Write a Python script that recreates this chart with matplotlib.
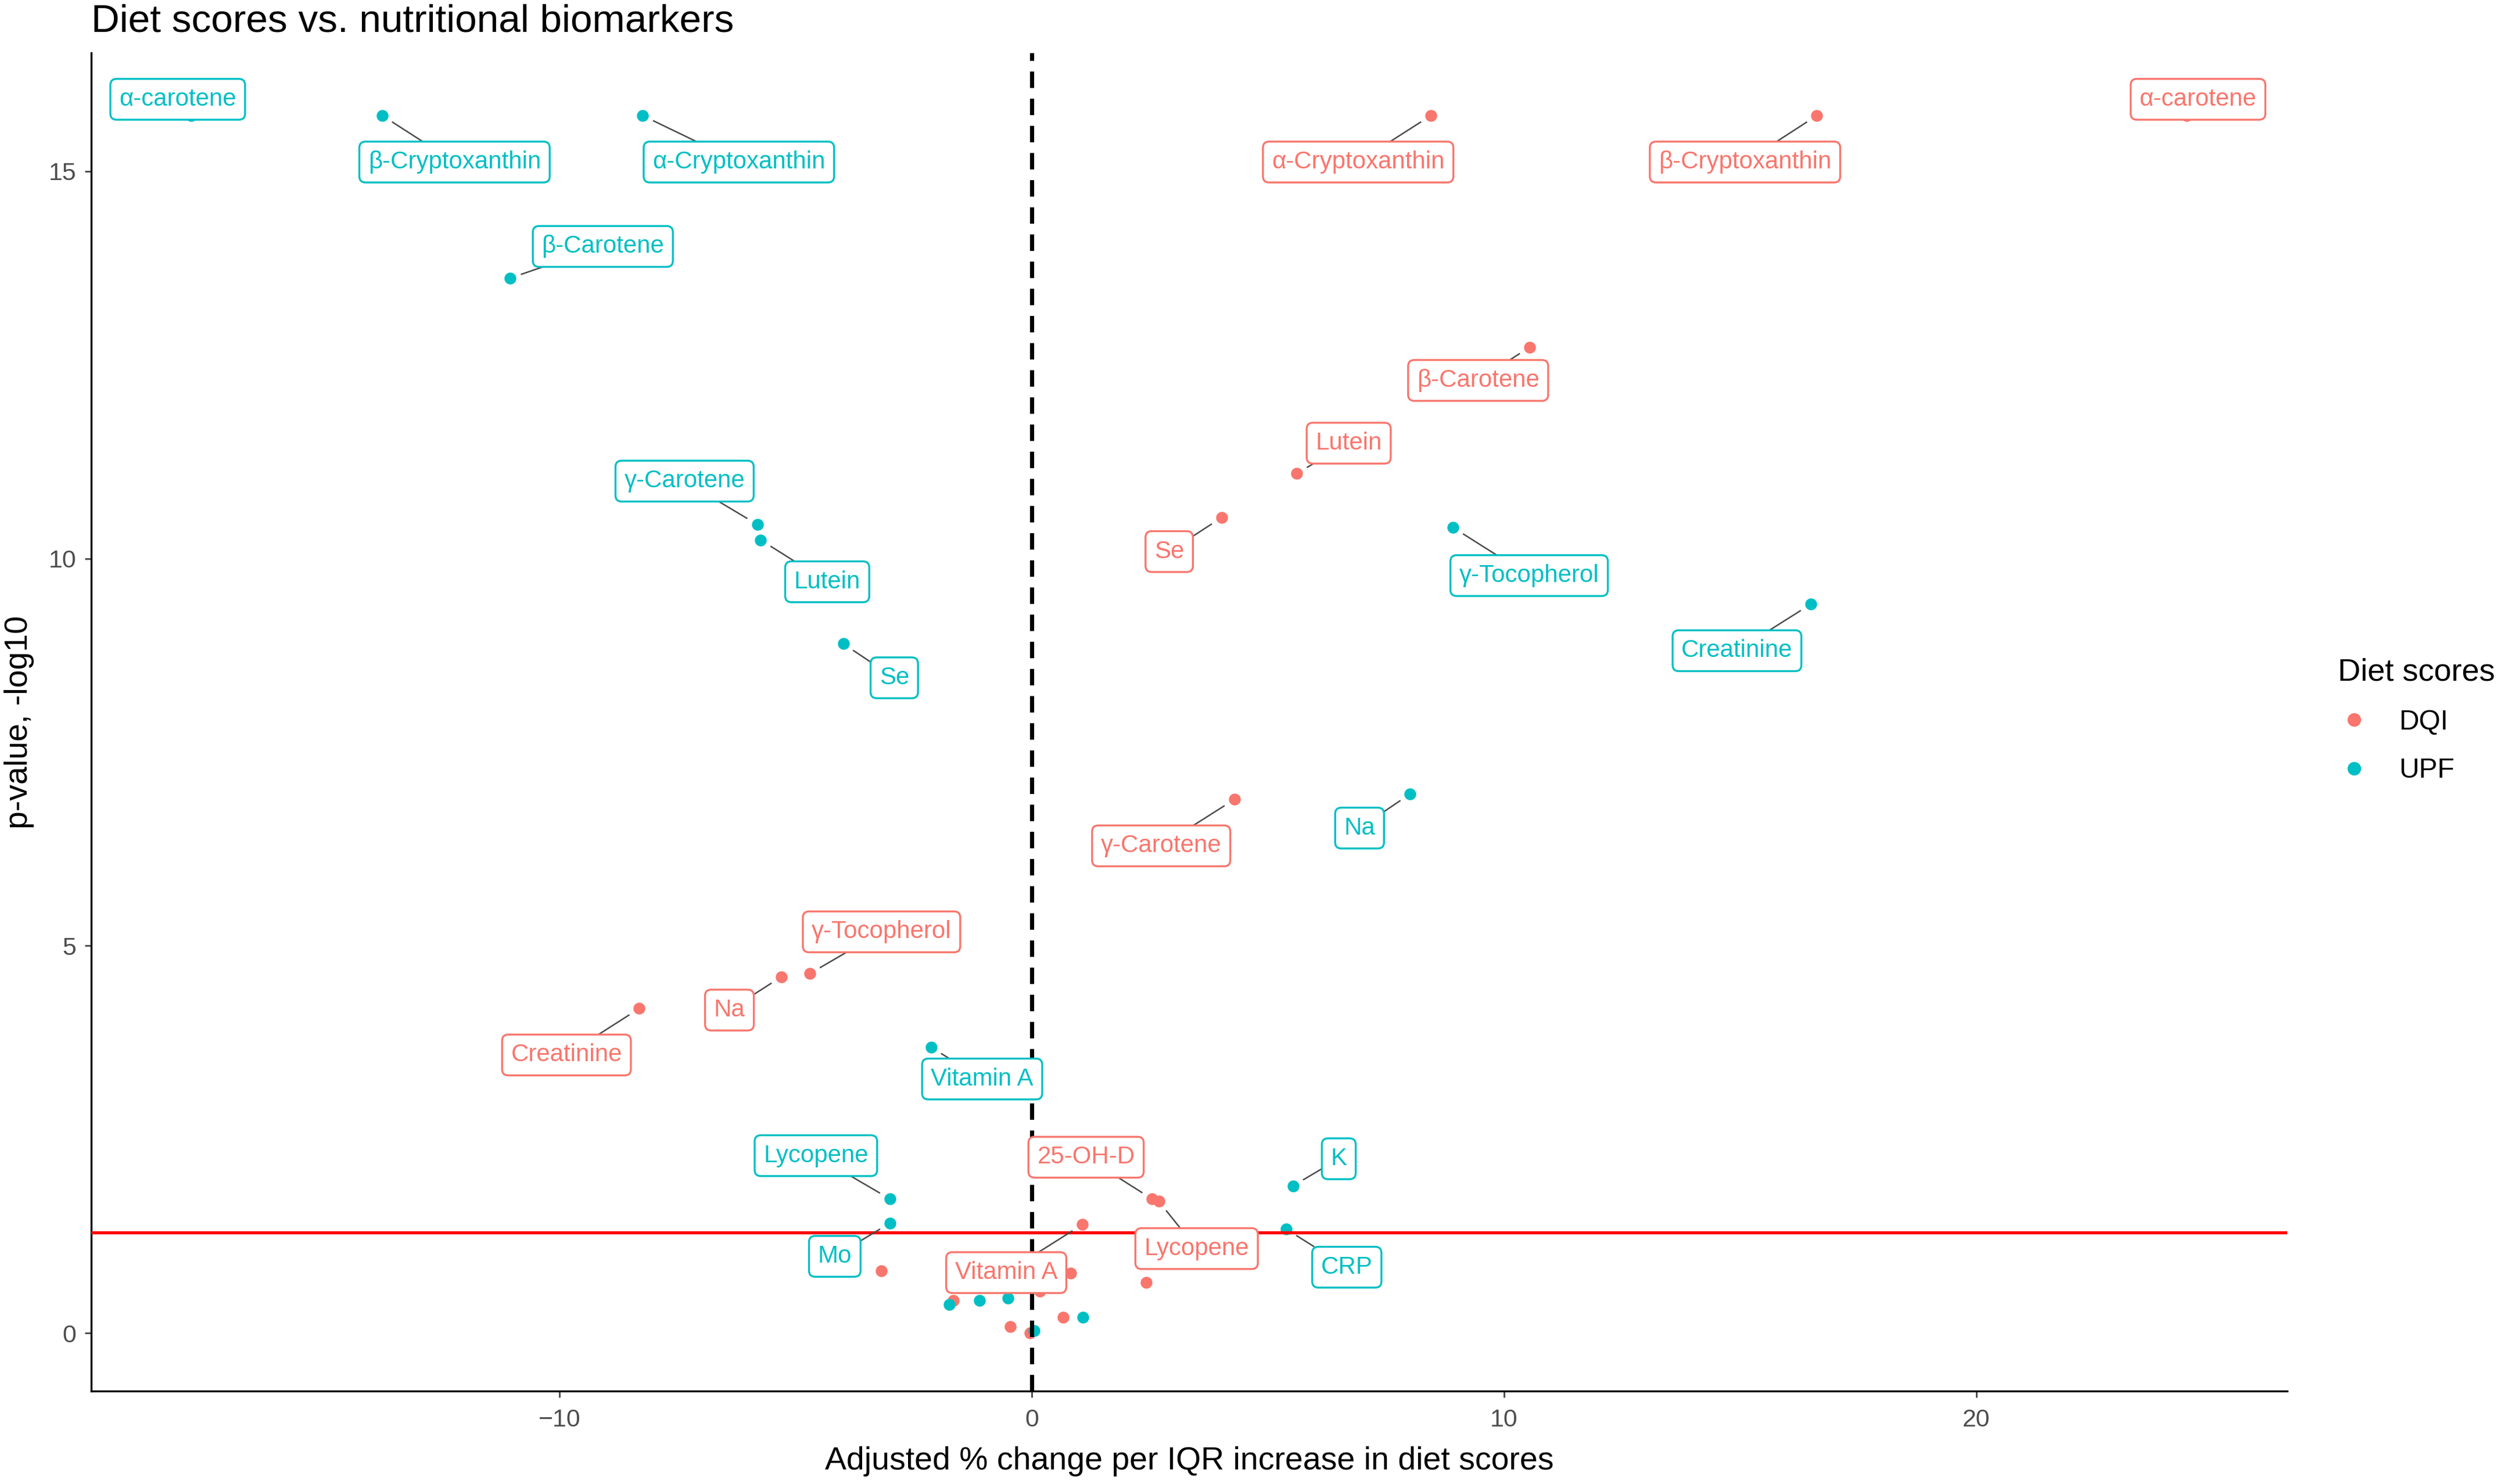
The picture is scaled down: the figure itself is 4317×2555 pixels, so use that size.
import matplotlib
matplotlib.use("Agg")
import matplotlib.pyplot as plt
from matplotlib.lines import Line2D
import numpy as np

plt.rcParams['font.family'] = ['Liberation Sans', 'DejaVu Sans']

# ---------------- data ----------------
upf_names = ['α-carotene', 'β-Cryptoxanthin', 'α-Cryptoxanthin', 'β-Carotene', 'γ-Carotene',
             'Lutein', 'Se', 'Vitamin A', 'Lycopene', 'Mo', 'K', 'CRP', 'γ-Tocopherol',
             'Creatinine', 'Na', '', '', '', '', '']
upf_x = [-17.8, -13.75, -8.24, -11.05, -5.81, -5.74, -3.99, -2.13, -3.0, -3.0, 5.53, 5.39,
         8.92, 16.49, 8.01, -1.75, -1.11, -0.50, 0.05, 1.08]
upf_y = [15.72, 15.72, 15.72, 13.62, 10.44, 10.24, 8.90, 3.69, 1.73, 1.42, 1.90, 1.34,
         10.40, 9.41, 6.96, 0.37, 0.42, 0.45, 0.03, 0.20]

dqi_names = ['α-carotene', 'α-Cryptoxanthin', 'β-Cryptoxanthin', 'β-Carotene', 'Lutein', 'Se',
             'γ-Carotene', 'γ-Tocopherol', 'Na', 'Creatinine', '25-OH-D', 'Lycopene', 'Vitamin A',
             '', '', '', '', '', '', '', '']
dqi_x = [24.45, 8.45, 16.62, 10.54, 5.61, 4.02, 4.29, -4.70, -5.30, -8.31, 2.55, 2.69, 1.07,
         -3.18, 0.83, 0.17, 2.42, -1.66, 0.66, -0.46, -0.04]
dqi_y = [15.72, 15.72, 15.72, 12.73, 11.10, 10.53, 6.89, 4.64, 4.60, 4.19, 1.73, 1.70, 1.40,
         0.80, 0.77, 0.54, 0.65, 0.42, 0.20, 0.08, 0.00]

significance_line = -np.log10(0.05)

# ---------------- label layout (repelled label centres) ----------------
upf_label_pos = {
    'α-carotene': (-18.08, 15.93), 'β-Cryptoxanthin': (-12.22, 15.12),
    'α-Cryptoxanthin': (-6.20, 15.12), 'β-Carotene': (-9.08, 14.03),
    'γ-Carotene': (-7.35, 11.00), 'Lutein': (-4.33, 9.70), 'Se': (-2.91, 8.46),
    'Vitamin A': (-1.05, 3.28), 'Lycopene': (-4.57, 2.29), 'Mo': (-4.17, 0.99),
    'K': (6.50, 2.25), 'CRP': (6.67, 0.85), 'γ-Tocopherol': (10.53, 9.78),
    'Creatinine': (14.93, 8.81), 'Na': (6.94, 6.52),
}
dqi_label_pos = {
    'α-carotene': (24.69, 15.93), 'α-Cryptoxanthin': (6.91, 15.12),
    'β-Cryptoxanthin': (15.10, 15.12), 'β-Carotene': (9.45, 12.30),
    'Lutein': (6.71, 11.49), 'Se': (2.91, 10.09), 'γ-Carotene': (2.74, 6.29),
    'γ-Tocopherol': (-3.18, 5.18), 'Na': (-6.40, 4.17), 'Creatinine': (-9.85, 3.59),
    '25-OH-D': (1.15, 2.27), 'Lycopene': (3.49, 1.09), 'Vitamin A': (-0.54, 0.78),
}

COL_DQI = '#F8766D'
COL_UPF = '#00BFC4'

W, H, DPI = 4317, 2555, 300
fig = plt.figure(figsize=(W / DPI, H / DPI), dpi=DPI)
ax = fig.add_axes([0.0364, 0.0626, 0.912 - 0.0364, 0.9644 - 0.0626])

ax.scatter(dqi_x, dqi_y, s=24, color=COL_DQI, zorder=2, linewidths=0)
ax.scatter(upf_x, upf_y, s=24, color=COL_UPF, zorder=2, linewidths=0)

ax.axhline(significance_line, color='red', lw=1.3, zorder=3)
ax.axvline(0, color='black', lw=1.7, ls=(0, (4, 2.6)), zorder=3)

ax.set_xlim(-19.91, 26.58)
ax.set_ylim(-0.75, 16.53)
ax.set_xticks([-10, 0, 10, 20])
ax.set_yticks([0, 5, 10, 15])
for s in ['top', 'right']:
    ax.spines[s].set_visible(False)
for s in ['left', 'bottom']:
    ax.spines[s].set_linewidth(0.8)
    ax.spines[s].set_color('black')
ax.tick_params(axis='both', colors='#4D4D4D', labelsize=10.3, length=2.7, width=0.7,
               labelcolor='#4D4D4D')
ax.tick_params(axis='x', pad=4.5)
ax.set_xlabel('Adjusted % change per IQR increase in diet scores', fontsize=13.3,
              color='black', labelpad=6)
ax.set_ylabel('p-value, -log10', fontsize=13.3, color='black', labelpad=6)

fig.text(0.0364, 0.9855, 'Diet scores vs. nutritional biomarkers', fontsize=16.2,
         ha='left', va='center', color='black')

# labels
texts = []
for names, xs, ys, pos, col in [(upf_names, upf_x, upf_y, upf_label_pos, COL_UPF),
                                (dqi_names, dqi_x, dqi_y, dqi_label_pos, COL_DQI)]:
    for n, px, py in zip(names, xs, ys):
        if not n:
            continue
        lx, ly = pos[n]
        t = ax.text(lx, ly, n, fontsize=10.1, color=col, ha='center', va='center', zorder=5,
                    bbox=dict(boxstyle='round,pad=0.36,rounding_size=0.25', fc='white',
                              ec=col, lw=0.8))
        texts.append((t, px, py))

# legend
handles = [Line2D([], [], marker='o', ls='', color=COL_DQI, markersize=4.6, label='DQI'),
           Line2D([], [], marker='o', ls='', color=COL_UPF, markersize=4.6, label='UPF')]
leg = fig.legend(handles=handles, title='Diet scores', loc='upper left',
                 bbox_to_anchor=(0.9265, 0.566), frameon=False, fontsize=11.5,
                 title_fontsize=13.0, handletextpad=1.0, labelspacing=0.8,
                 borderpad=0, handlelength=1.2)
leg._legend_box.align = 'left'

# segments from label box edge to point
fig.canvas.draw()
renderer = fig.canvas.get_renderer()
inv = ax.transData.inverted()
for t, px, py in texts:
    bb = t.get_bbox_patch().get_window_extent(renderer)
    cx, cy = (bb.x0 + bb.x1) / 2, (bb.y0 + bb.y1) / 2
    P = ax.transData.transform((px, py))
    dx, dy = P[0] - cx, P[1] - cy
    tx = (bb.width / 2) / abs(dx) if dx != 0 else np.inf
    ty = (bb.height / 2) / abs(dy) if dy != 0 else np.inf
    tt = min(tx, ty)
    if tt >= 1:
        continue
    E = np.array([cx + dx * tt, cy + dy * tt])
    d = np.hypot(P[0] - E[0], P[1] - E[1])
    pad = 20.0
    if d < pad + 6:
        continue
    S = P + (E - P) * (pad / d)
    a = inv.transform(E)
    b = inv.transform(S)
    ax.plot([a[0], b[0]], [a[1], b[1]], color='#4a4a4a', lw=0.6, zorder=4,
            solid_capstyle='butt')

fig.savefig('out.png', dpi=DPI)
